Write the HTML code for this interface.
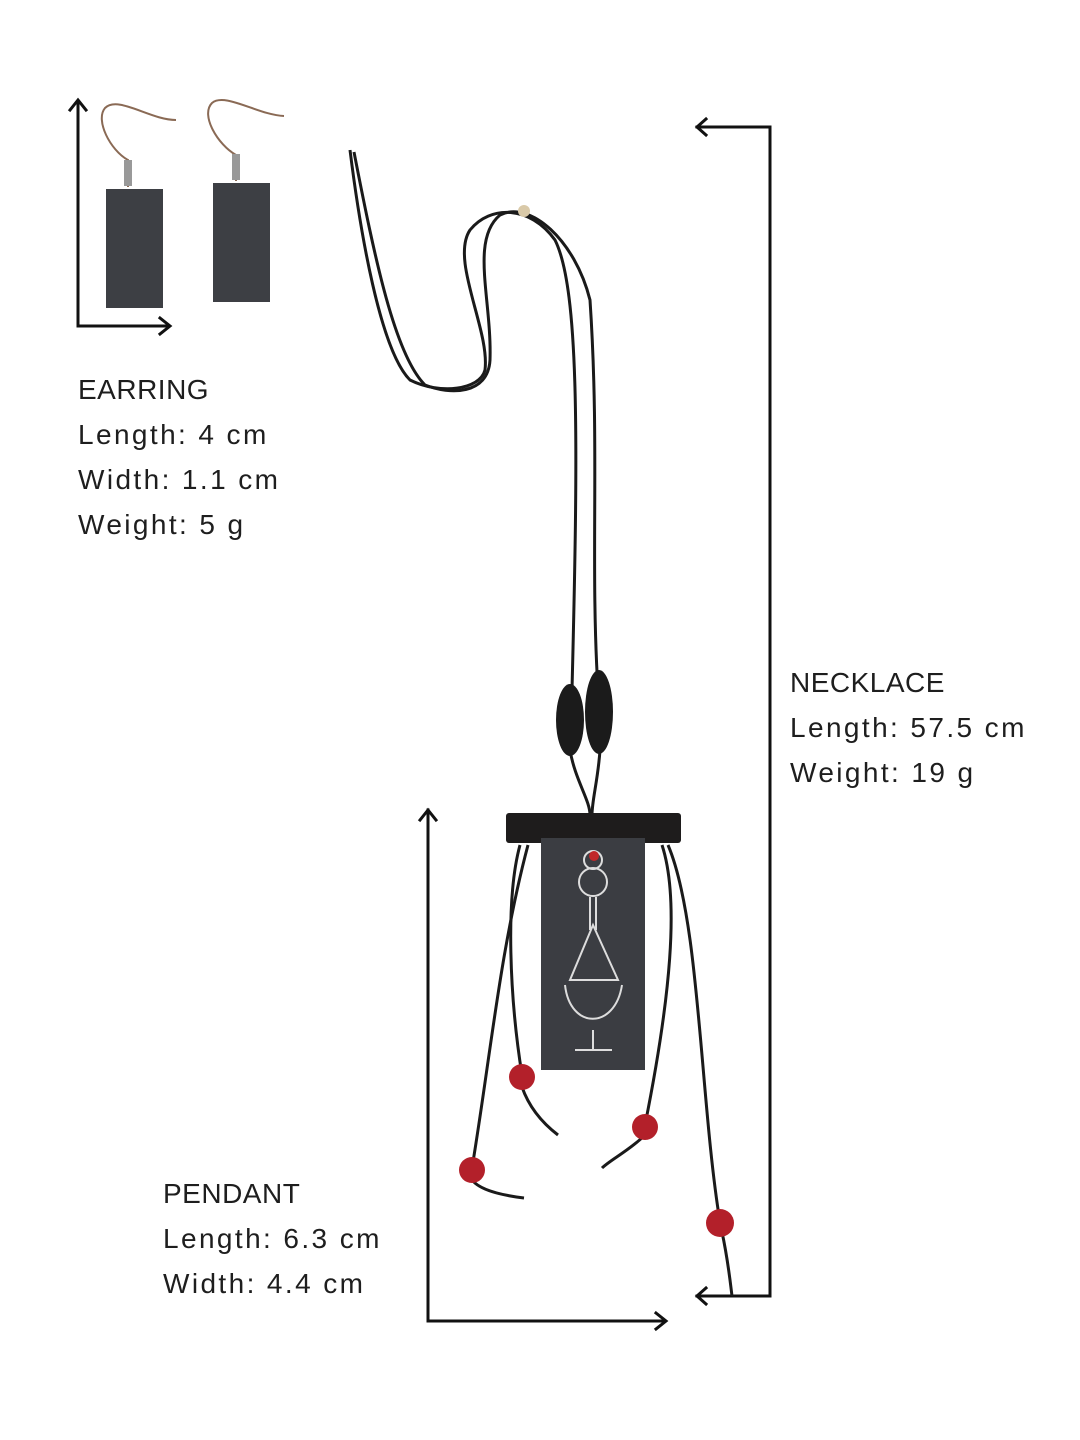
<!DOCTYPE html>
<html><head><meta charset="utf-8"><style>
html,body{margin:0;padding:0;background:#fff}
.w{position:relative;width:1080px;height:1440px;overflow:hidden;background:#fff}
.t{position:absolute;font-family:"Liberation Sans",sans-serif;font-size:28px;color:#1e1e1e;line-height:45px;letter-spacing:2.4px}
.t b{font-weight:normal;letter-spacing:0.5px}
</style></head><body><div class="w">
<svg width="1080" height="1440" style="position:absolute;left:0;top:0">
<g stroke="#111" stroke-width="3" fill="none" stroke-linecap="square">
<path d="M78 102 V326 H168"/><path d="M70 110 L78 100 L86 110"/><path d="M160 318 L170 326 L160 334"/>
<path d="M697 127 H770 V1296 H697"/><path d="M706 119 L697 127 L706 135"/><path d="M706 1288 L697 1296 L706 1304"/>
<path d="M428 810 V1321 H664"/><path d="M420 820 L428 810 L436 820"/><path d="M656 1313 L666 1321 L656 1329"/>
</g>
<g stroke="#8a6a55" stroke-width="2" fill="none">
<path d="M128 187 V160 C110 150 95 120 105 108 C118 95 150 120 176 120"/>
<path d="M236 181 V155 C218 145 200 115 212 103 C225 92 258 115 284 116"/>
</g>
<rect x="124" y="160" width="8" height="26" fill="#999"/><rect x="232" y="154" width="8" height="26" fill="#999"/>
<rect x="106" y="189" width="57" height="119" fill="#3d3f44"/>
<rect x="213" y="183" width="57" height="119" fill="#3d3f44"/>
<g stroke="#1a1a1a" stroke-width="3" fill="none">
<path d="M350 150 C360 230 380 350 410 380 C440 395 480 390 485 370 C490 330 450 260 470 230 C490 205 530 205 555 240 C580 290 578 450 572 690"/>
<path d="M354 152 C375 260 395 355 425 385 C450 395 488 395 490 360 C492 300 470 240 500 215 C530 200 575 240 590 300 C600 450 590 560 598 690"/>
<path d="M570 750 C575 780 590 800 590 815"/><path d="M600 750 C598 780 592 800 592 815"/>
<path d="M520 845 C505 900 510 1000 522 1075"/><path d="M528 845 C500 950 490 1060 472 1168 M472 1180 C480 1190 500 1195 524 1198"/>
<path d="M662 845 C680 900 670 1000 645 1125 M645 1135 C630 1150 610 1160 602 1168"/>
<path d="M668 845 C700 920 700 1100 720 1222 M722 1232 C728 1260 730 1280 732 1296"/>
<path d="M522 1087 C530 1110 545 1125 558 1135"/>
</g>
<circle cx="524" cy="211" r="6" fill="#d9c9a8"/>
<ellipse cx="570" cy="720" rx="14" ry="36" fill="#1b1b1b"/>
<ellipse cx="599" cy="712" rx="14" ry="42" fill="#1b1b1b"/>
<rect x="506" y="813" width="175" height="30" rx="3" fill="#1e1c1c"/>
<rect x="541" y="838" width="104" height="232" fill="#3b3d42"/>
<g stroke="#ddd" stroke-width="2" fill="none">
<circle cx="593" cy="882" r="14"/><circle cx="593" cy="860" r="9"/>
<path d="M590 897 V930 M596 897 V930 M570 980 L593 925 L618 980 Z M565 985 C570 1030 615 1030 622 985 M593 1030 V1050 M575 1050 H612"/>
</g>
<circle cx="594" cy="856" r="5" fill="#c0282a"/>
<g fill="#b3202a"><circle cx="522" cy="1077" r="13"/><circle cx="472" cy="1170" r="13"/><circle cx="645" cy="1127" r="13"/><circle cx="720" cy="1223" r="14"/></g>
</svg>
<div class="t" style="left:78px;top:367px"><b>EARRING</b><br>Length: 4 cm<br>Width: 1.1 cm<br>Weight: 5 g</div>
<div class="t" style="left:790px;top:660px"><b>NECKLACE</b><br>Length: 57.5 cm<br>Weight: 19 g</div>
<div class="t" style="left:163px;top:1171px"><b>PENDANT</b><br>Length: 6.3 cm<br>Width: 4.4 cm</div>
</div></body></html>
